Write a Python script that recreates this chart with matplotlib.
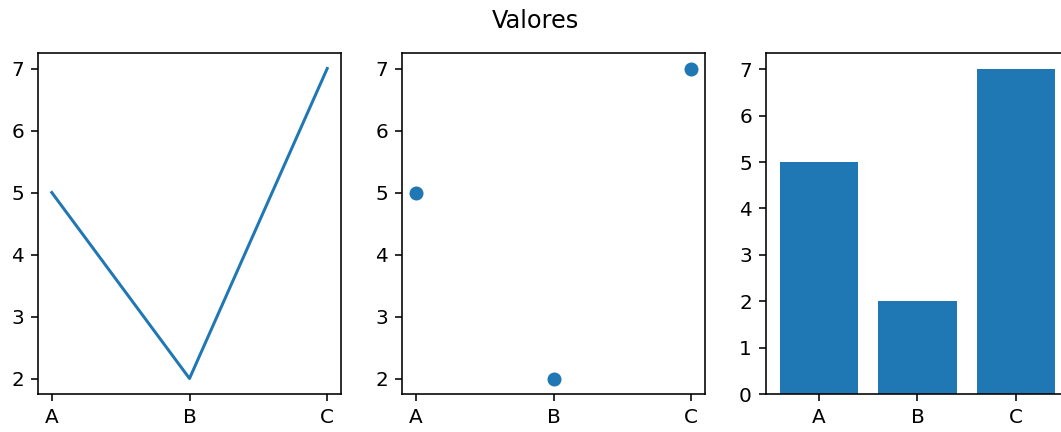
import matplotlib
matplotlib.use("Agg")
import matplotlib.pyplot as plt

categorias = ['A', 'B', 'C']
valores = [5, 2, 7]

fig = plt.figure(figsize=(1061 / 144, 432 / 144), dpi=144)

# axes placed by pixel measurements of the reference (right panel runs off the edge)
W, H = 1061, 432
ancho, alto = 303, 341
top = 53
ax1 = fig.add_axes([38 / W, 1 - (top + alto) / H, ancho / W, alto / H])
ax2 = fig.add_axes([402 / W, 1 - (top + alto) / H, ancho / W, alto / H])
ax3 = fig.add_axes([766 / W, 1 - (top + alto) / H, ancho / W, alto / H])

ax1.plot(categorias, valores)
ax2.scatter(categorias, valores)
ax3.bar(categorias, valores)

fig.suptitle('Valores', x=535 / W)
fig.savefig('out.png', dpi=144)
plt.close()
